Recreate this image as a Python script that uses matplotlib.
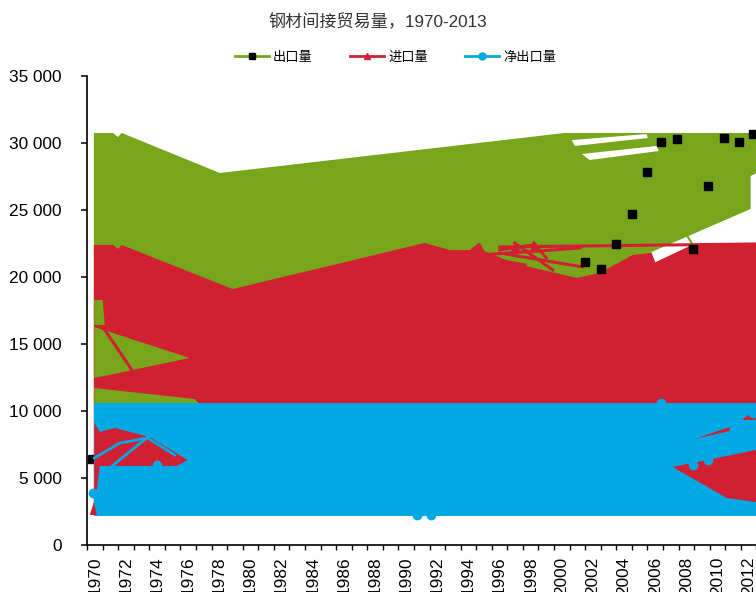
import matplotlib
matplotlib.use('Agg')
import matplotlib.pyplot as plt
from matplotlib.lines import Line2D
from matplotlib.ticker import FuncFormatter, MultipleLocator, FixedLocator

plt.rcParams['font.family'] = ['Liberation Sans', 'Noto Sans CJK SC', 'DejaVu Sans']

title = '钢材间接贸易量，1970-2013'
names = ['出口量', '进口量', '净出口量']
green, red, blue = '#77A51B', '#D12031', '#00A9E4'

# --- values (x in years, y in the chart's units) ---
# 出口量: outline of the green mass
exp_x = [1969.94, 1971.16, 1971.48, 1971.73, 1978.03, 2000.19, 2013.48, 2013.48,
         2012.13, 2012.13, 2005.77, 2005.5, 2005.5, 1969.94]
exp_y = [30750, 30750, 30450, 30750, 27760, 30750, 30750, 28300,
         27540, 25080, 21870, 20000, 2200, 2200]
exp_mk_x = [1969.8, 2001.5, 2002.5, 2003.5, 2004.5, 2005.45, 2006.4, 2007.4,
            2008.4, 2009.4, 2010.4, 2011.4, 2012.3]
exp_mk_y = [6420, 21100, 20600, 22490, 24730, 27810, 30100, 30280,
            22090, 26800, 30400, 30100, 30670]
# green bits showing through the red
gw1_x = [1969.97, 1970.51, 1970.64, 1969.97]
gw1_y = [18280, 18280, 16420, 16420]
gw2_x = [1969.97, 1976.10, 1969.97]
gw2_y = [16270, 13955, 12460]
gw3_x = [1969.97, 1976.42, 1976.74, 1969.97]
gw3_y = [11716, 10896, 10522, 10522]
gline_x = [2007.89, 2008.34]
gline_y = [23360, 22540]
# white slivers in the green top
ws1_x = [2000.64, 2005.45, 2005.52, 2000.83]
ws1_y = [30220, 30670, 30370, 29780]
ws2_x = [2001.28, 2006.10, 2006.22, 2001.79]
ws2_y = [29180, 29780, 29400, 28730]

# 进口量: outline of the red mass
imp_x = [1969.94, 1971.16, 1971.48, 1971.73, 1978.86, 1991.19, 1992.80, 1994.08,
         1994.66, 1994.86, 1995.5, 1997.0, 2000.96, 2002.43, 2004.55, 2005.77,
         2006.0, 2008.21, 2013.48, 2013.48, 1969.94]
imp_y = [22390, 22390, 22100, 22390, 19100, 22540, 22010, 22010,
         22540, 22010, 21700, 21000, 19930, 20300, 21640, 21800,
         21100, 22310, 22540, 2200, 2200]
imp_mk_x = [1994.66, 1996.97, 1998.2, 2010.3]
imp_mk_y = [22240, 22240, 22240, 22240]
# loose red strokes
rl_x = [[1994.73, 2001.15], [1994.73, 1997.62], [1996.97, 1999.42], [1998.2, 1999.0],
        [1996.01, 1998.14], [1996.01, 2001.34], [1996.01, 2013.48], [1970.51, 1972.38],
        [1976.0, 1976.8]]
rl_y = [[21640, 22160], [21490, 20900], [22540, 20520], [22540, 21420],
        [22015, 22390], [21790, 20750], [22240, 22480], [16270, 13060],
        [11700, 10600]]
# red showing through the blue
rp1_x = [1969.97, 1970.32, 1971.28, 1973.53, 1975.97, 1975.27, 1971.16, 1970.32, 1970.13, 1969.97]
rp1_y = [9100, 8430, 8730, 8060, 6340, 5900, 5900, 5900, 4100, 4100]
rp2_x = [1969.68, 1970.13, 1969.94]
rp2_y = [2240, 2240, 3210]
rp3_x = [2007.12, 2013.48, 2013.48, 2012.45, 2010.59]
rp3_y = [5820, 7335, 3040, 3210, 3510]
rp4_x = [2008.54, 2010.78, 2010.78]
rp4_y = [7910, 8810, 8510]
rp5_x = [2011.55, 2012.45, 2012.45]
rp5_y = [9330, 10075, 9330]

# 净出口量: outline of the blue mass
net_x = [1969.97, 2013.48, 2013.48, 1969.97]
net_y = [10560, 10560, 2150, 2150]
net_mk_x = [1969.87, 1973.98, 1990.7, 1991.6, 2006.4, 2008.4, 2009.4, 2012.3]
net_mk_y = [3880, 5970, 2240, 2240, 10600, 5970, 6340, 9850]
bl1_x = [1969.97, 1971.61, 1973.40, 1975.14]
bl1_y = [6490, 7610, 7985, 6715]
bl2_x = [1970.96, 1973.40]
bl2_y = [5750, 8060]

years = list(range(1970, 2014))

fig = plt.figure(figsize=(7.56, 5.92), dpi=100)
ax = fig.add_axes([87 / 756, 47 / 592, 685 / 756, 469 / 592])

ax.fill(exp_x, exp_y, color=green, lw=0, zorder=1)
ax.fill(ws1_x, ws1_y, color='white', lw=0, zorder=1.1)
ax.fill(ws2_x, ws2_y, color='white', lw=0, zorder=1.1)
ax.plot(gline_x, gline_y, color=green, lw=1.5, zorder=1.2)

ax.fill(imp_x, imp_y, color=red, lw=0, zorder=2)
for xs, ys in zip(rl_x, rl_y):
    ax.plot(xs, ys, color=red, lw=2.2, zorder=2.1)
for xs, ys in [(gw1_x, gw1_y), (gw2_x, gw2_y), (gw3_x, gw3_y)]:
    ax.fill(xs, ys, color=green, lw=0, zorder=2.05)
ax.plot(exp_mk_x, exp_mk_y, ls='none', marker='s', ms=6.2, color='black', zorder=2.5)
ax.plot(imp_mk_x, imp_mk_y, ls='none', marker='^', ms=6, color=red, zorder=2.6)

ax.fill(net_x, net_y, color=blue, lw=0, zorder=3)
for xs, ys in [(rp1_x, rp1_y), (rp2_x, rp2_y), (rp3_x, rp3_y), (rp4_x, rp4_y), (rp5_x, rp5_y)]:
    ax.fill(xs, ys, color=red, lw=0, zorder=3.1)
ax.plot(bl1_x, bl1_y, color=blue, lw=2, zorder=3.2)
ax.plot(bl2_x, bl2_y, color=blue, lw=2, zorder=3.2)
ax.plot(net_mk_x, net_mk_y, ls='none', marker='o', ms=6, color=blue, zorder=3.3)

ax.set_xlim(1969.5, 2013.5)
ax.set_ylim(0, 35000)
for s in ['top', 'right']:
    ax.spines[s].set_visible(False)
for s in ['left', 'bottom']:
    ax.spines[s].set_linewidth(1.2)
    ax.spines[s].set_zorder(5)

ax.yaxis.set_major_locator(MultipleLocator(5000))
ax.yaxis.set_major_formatter(FuncFormatter(lambda v, p: f'{v:,.0f}'.replace(',', ' ')))
ax.tick_params(axis='y', direction='out', length=4.3, width=1.1, pad=14, labelsize=12.4)

ax.xaxis.set_major_locator(FixedLocator(years[::2]))
ax.set_xticklabels([str(y) for y in years[::2]], rotation=90)
ax.xaxis.set_minor_locator(FixedLocator([y - 0.5 for y in years] + [2013.5]))
ax.tick_params(axis='x', which='major', length=0, pad=8.5, labelsize=12.4)
ax.tick_params(axis='x', which='minor', direction='out', length=3.6, width=1)

fig.text(0.5, 1 - 22 / 592, title, ha='center', va='center', fontsize=12.3, color='#333333')

handles = [
    Line2D([], [], color=green, lw=2, marker='s', ms=5, mfc='black', mec='black'),
    Line2D([], [], color=red, lw=2, marker='^', ms=5, mfc=red, mec=red),
    Line2D([], [], color=blue, lw=2, marker='o', ms=5, mfc=blue, mec=blue),
]
fig.legend(handles, names, loc='center', bbox_to_anchor=(0.523, 1 - 58 / 592), ncol=3,
           frameon=False, fontsize=9.5, handlelength=2.6, handletextpad=0.3,
           columnspacing=2.8)

fig.savefig('out.png', dpi=100)
